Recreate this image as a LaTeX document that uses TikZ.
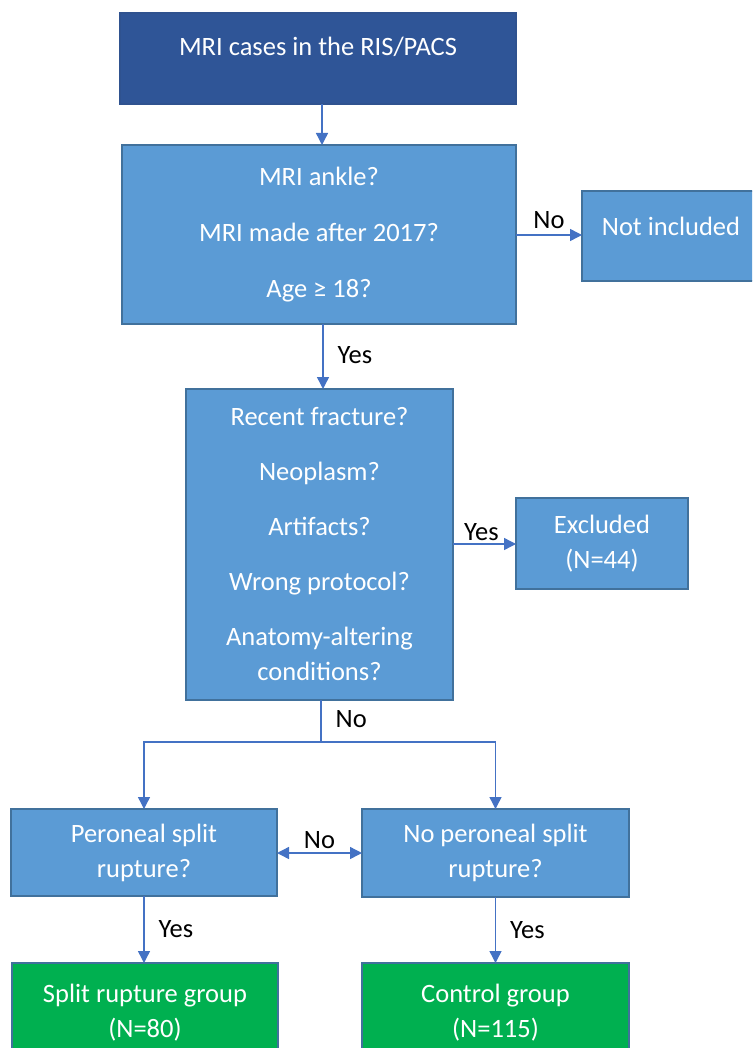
\documentclass[tikz,border=0pt]{standalone}
\usepackage{fontspec}
\setmainfont{Carlito}
\usetikzlibrary{arrows.meta}
\definecolor{topfill}{HTML}{2F5597}
\definecolor{topline}{HTML}{2F528F}
\definecolor{boxfill}{HTML}{5B9BD5}
\definecolor{boxline}{HTML}{41719C}
\definecolor{grnfill}{HTML}{00B050}
\definecolor{arrowc}{HTML}{4472C4}
\begin{document}
\begin{tikzpicture}[x=1pt,y=-1pt,
  base/.style={draw, line width=1.3pt, inner sep=0pt, outer sep=0pt, text=white, align=center,
    font=\fontsize{26.5}{35}\selectfont},
  darkbox/.style={base, fill=topfill, draw=topline},
  bluebox/.style={base, fill=boxfill, draw=boxline},
  greenbox/.style={base, fill=grnfill, draw=boxline},
  conn/.style={draw=arrowc, line width=1.4pt, -{Triangle[width=12pt,length=12pt]}},
  dconn/.style={draw=arrowc, line width=1.4pt, {Triangle[width=12pt,length=12pt]}-{Triangle[width=12pt,length=12pt]}},
  lbl/.style={text=black, inner sep=0pt, font=\fontsize{26.5}{35}\selectfont}]
\useasboundingbox (0,0) rectangle (752,1048);
\begin{scope}
\clip (0,0) rectangle (752,1048);
% boxes
\node[darkbox, minimum width=396pt, minimum height=91pt, text height=20pt, text depth=25pt] (top) at (318,58.5) {MRI cases in the RIS/PACS};
\node[bluebox, minimum width=394pt, minimum height=179pt] (q1) at (319,234.5) {MRI ankle?\\[21pt]MRI made after 2017?\\[21pt]Age ≥ 18?};
\node[bluebox, minimum width=218pt, minimum height=90pt, text height=20pt, text depth=20pt] (notinc) at (691,236) {Not included\kern40pt};
\node[bluebox, minimum width=267pt, minimum height=311pt] (q2) at (319.5,544.5) {Recent fracture?\\[20pt]Neoplasm?\\[20pt]Artifacts?\\[20pt]Wrong protocol?\\[20pt]Anatomy-altering\\conditions?};
\node[bluebox, minimum width=172pt, minimum height=91pt] (excl) at (602,543.5) {Excluded\\(N=44)};
\node[bluebox, minimum width=266pt, minimum height=87pt] (left) at (144,852.5) {Peroneal split\\rupture?};
\node[bluebox, minimum width=267pt, minimum height=88pt] (right) at (495.5,853) {No peroneal split\\rupture?};
\node[greenbox, minimum width=266pt, minimum height=130pt] (gleft) at (145,1028) {Split rupture group\\(N=80)\\\mbox{}};
\node[greenbox, minimum width=267pt, minimum height=130pt] (gright) at (495.5,1028) {Control group\\(N=115)\\\mbox{}};
\end{scope}
% connectors
\draw[conn] (top.south -| 322,0) -- (q1.north -| 322,0);
\draw[conn] (q1.east |- 0,235) -- (notinc.west |- 0,235) node[lbl, pos=0.5, above=6pt] (lno1) {No};
\draw[conn] (q1.south -| 323,0) -- (q2.north -| 323,0) node[lbl, pos=0.48, right=14pt] (lyes1) {Yes};
\draw[conn] (q2.east |- 0,544) -- (excl.west |- 0,544) node[lbl, pos=0.45, above=3pt] (lyes2) {Yes};
\coordinate (split) at (321,742);
\draw[draw=arrowc, line width=1.4pt] (q2.south -| split) -- (split) node[lbl, pos=0.45, right=14pt] (lno2) {No};
\draw[conn] (split) -| (left.north);
\draw[conn] (split) -| (right.north);
\draw[dconn] (left.east |- 0,853) -- (right.west |- 0,853) node[lbl, pos=0.5, above=4pt] (lno3) {No};
\draw[conn] (left.south) -- (gleft.north -| left.south) node[lbl, pos=0.5, right=14pt] (lyes3) {Yes};
\draw[conn] (right.south) -- (gright.north -| right.south) node[lbl, pos=0.5, right=14pt] (lyes4) {Yes};
\end{tikzpicture}
\end{document}
